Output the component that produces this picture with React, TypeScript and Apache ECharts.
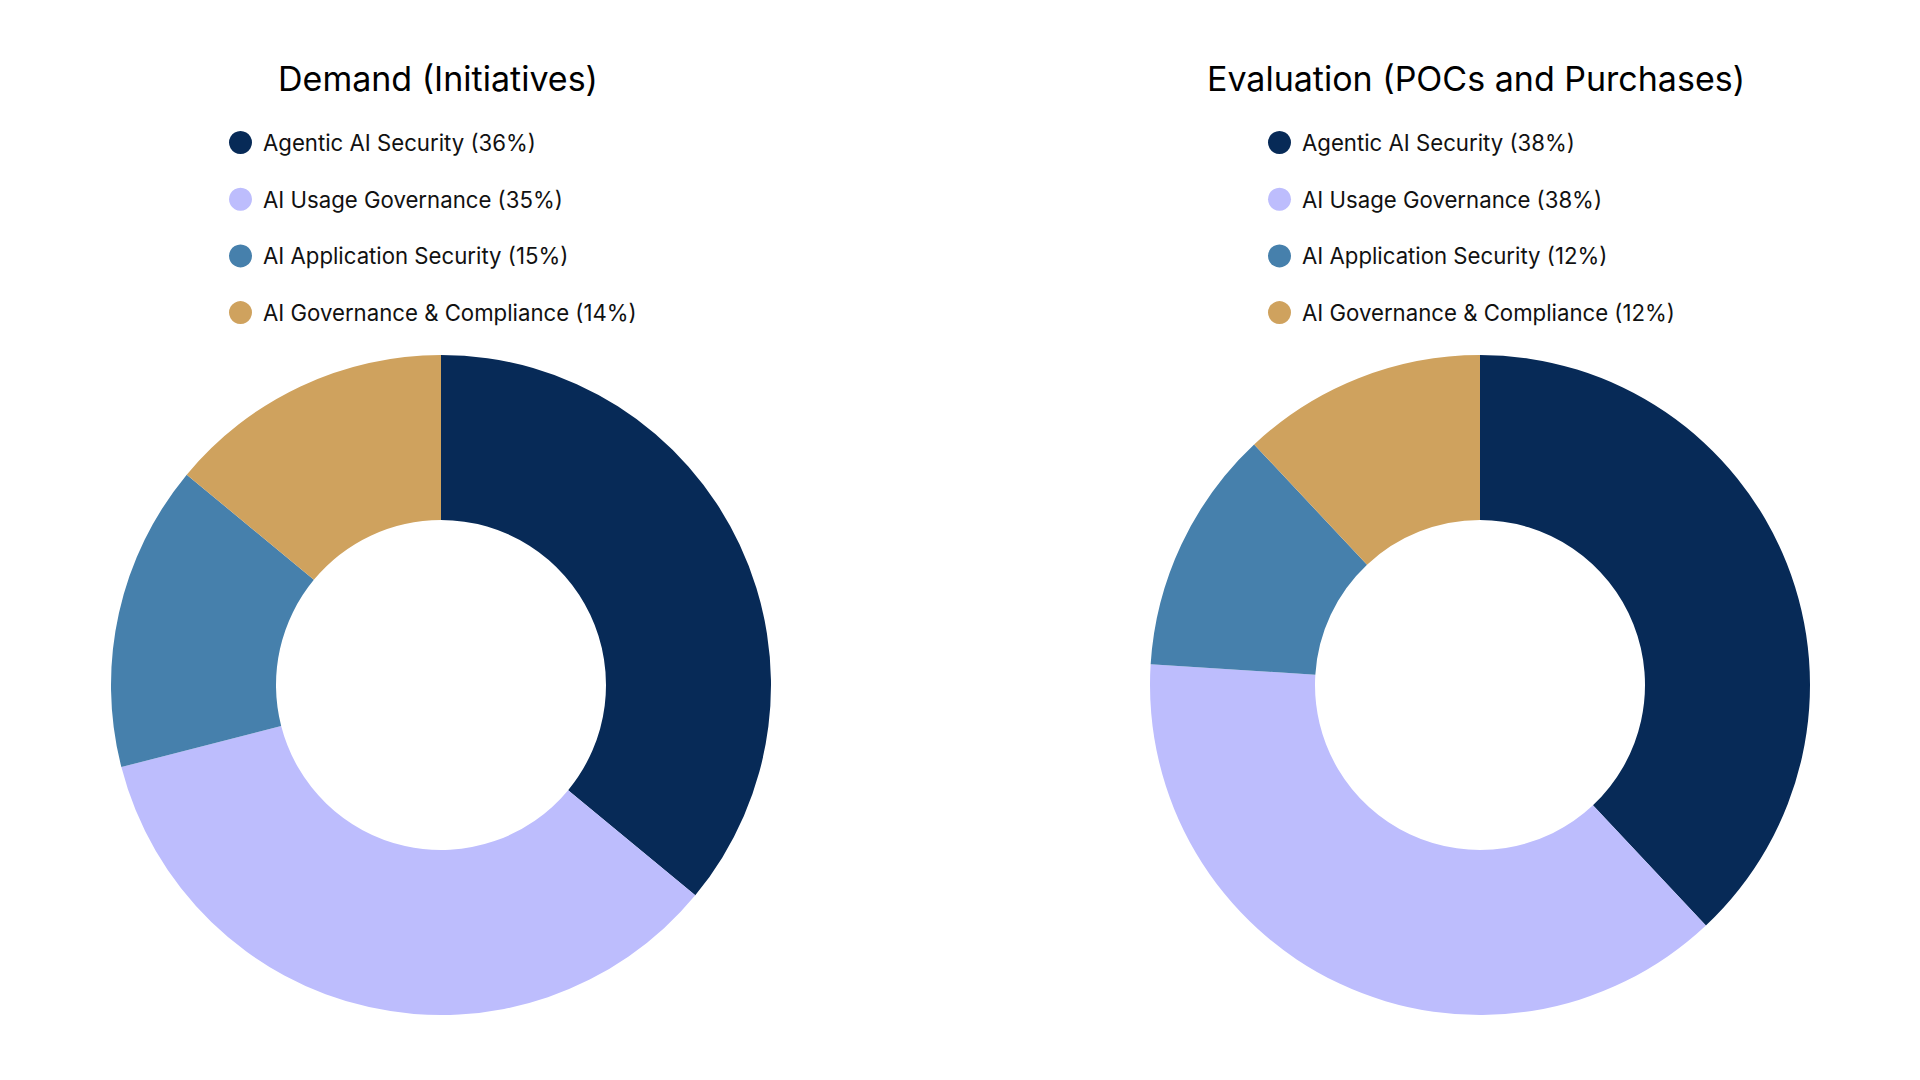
import React, { useEffect, useRef } from "react";
import * as echarts from "echarts";

const categories = [
  "Agentic AI Security",
  "AI Usage Governance",
  "AI Application Security",
  "AI Governance & Compliance",
];
const demandValues = [36, 35, 15, 14];
const evaluationValues = [38, 38, 12, 12];
const chartTitles = ["Demand (Initiatives)", "Evaluation (POCs and Purchases)"];
const colors = ["#072a57", "#bdbdfd", "#4680ac", "#cfa25e"];

const FONT = "Inter, 'Noto Sans', sans-serif";

function buildData(values: number[]) {
  return categories.map((c, i) => ({
    name: `${c} (${values[i]}%)`,
    value: values[i],
    itemStyle: { color: colors[i] },
  }));
}

export default function App() {
  const ref = useRef<HTMLDivElement>(null);
  useEffect(() => {
    if (!ref.current) return;
    const chart = echarts.init(ref.current, undefined, { renderer: "svg" });
    const centers = [441, 1480];
    const titleCenters = [433, 1471];
    const cy = 685;
    const datasets = [demandValues, evaluationValues];
    const option: any = {
      animation: false,
      backgroundColor: "#ffffff",
      title: chartTitles.map((t, i) => ({
        text: t,
        left: titleCenters[i],
        top: 56,
        textAlign: "center",
        textStyle: {
          fontFamily: FONT,
          fontSize: 34,
          fontWeight: "normal",
          color: "#000000",
        },
      })),
      legend: datasets.map((vals, i) => ({
        orient: "vertical",
        left: centers[i] - 212,
        top: 131,
        padding: 0,
        icon: "circle",
        itemWidth: 23,
        itemHeight: 23,
        itemGap: 33.7,
        selectedMode: false,
        data: buildData(vals).map((d) => d.name),
        textStyle: {
          fontFamily: FONT,
          fontSize: 22.2,
          color: "#111111",
          padding: [0, 0, 0, 6],
        },
      })),
      series: datasets.map((vals, i) => ({
        type: "pie",
        center: [centers[i], cy],
        radius: [165, 330],
        startAngle: 90,
        clockwise: true,
        label: { show: false },
        labelLine: { show: false },
        emphasis: { disabled: true },
        data: buildData(vals),
      })),
    };
    chart.setOption(option);
    return () => chart.dispose();
  }, []);
  return (
    <div
      ref={ref}
      style={{ position: "fixed", left: 0, top: 0, width: 1920, height: 1080 }}
    />
  );
}
